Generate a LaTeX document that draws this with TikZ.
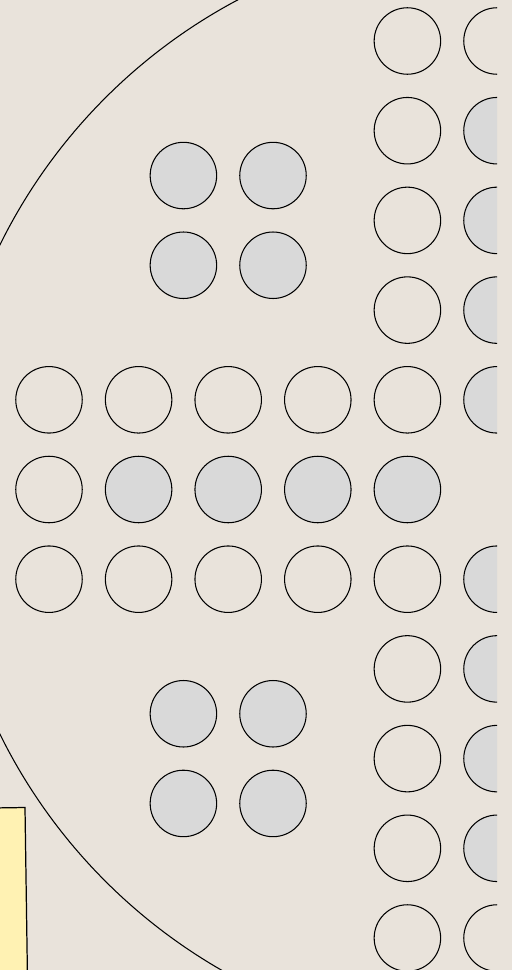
\documentclass[tikz,border=0pt]{standalone}
\usepackage{tikz}
\usetikzlibrary{positioning}
\definecolor{paperBg}{HTML}{E9E3DB}
\definecolor{pegGray}{HTML}{D9D9D9}
\definecolor{noteYellow}{HTML}{FFF2B3}

\begin{document}
\begin{tikzpicture}[x=0.02cm, y=-0.02cm,
    hole/.style={circle, draw=black, line width=0.6pt, minimum size=1.33cm, inner sep=0pt},
    peg/.style={hole, fill=pegGray}]
    % Paper
    \fill[paperBg] (0,0) rectangle (512,970);
    \useasboundingbox (0,0) rectangle (512,970);
    \begin{scope}
    \clip (0,0) rectangle (497,970);
    % Board outline
    \coordinate (centre) at (497,489.5);
    \draw[line width=0.6pt] (centre) circle[radius=11.08cm];
    % Grid holes and pegs (column/row/style)
    \foreach \c/\r/\s in {1/5/hole, 2/5/hole, 3/5/hole, 4/5/hole, 5/5/hole, 6/5/peg,
                          1/6/hole, 2/6/peg, 3/6/peg, 4/6/peg, 5/6/peg,
                          1/7/hole, 2/7/hole, 3/7/hole, 4/7/hole, 5/7/hole, 6/7/peg,
                          5/1/hole, 5/2/hole, 5/3/hole, 5/4/hole,
                          6/1/hole, 6/2/peg, 6/3/peg, 6/4/peg,
                          5/8/hole, 5/9/hole, 5/10/hole, 5/11/hole,
                          6/8/peg, 6/9/peg, 6/10/peg, 6/11/hole} {
        \node[\s] (g-\c-\r) at ({49+89.6*(\c-1)}, {41+89.7*(\r-1)}) {};
    }
    % Peg blocks
    \foreach \c in {2,3} {
        \foreach \r in {2,3,8,9} {
            \node[peg] (b-\c-\r) at ({49+89.6*(\c-0.5)}, {41+89.7*(\r-0.5)}) {};
        }
    }
    \end{scope}
    % Note
    \draw[fill=noteYellow, line width=0.7pt] (-40,808.5) -- (25,807.5) -- (27.5,980) -- (-40,980) -- cycle;
\end{tikzpicture}
\end{document}
